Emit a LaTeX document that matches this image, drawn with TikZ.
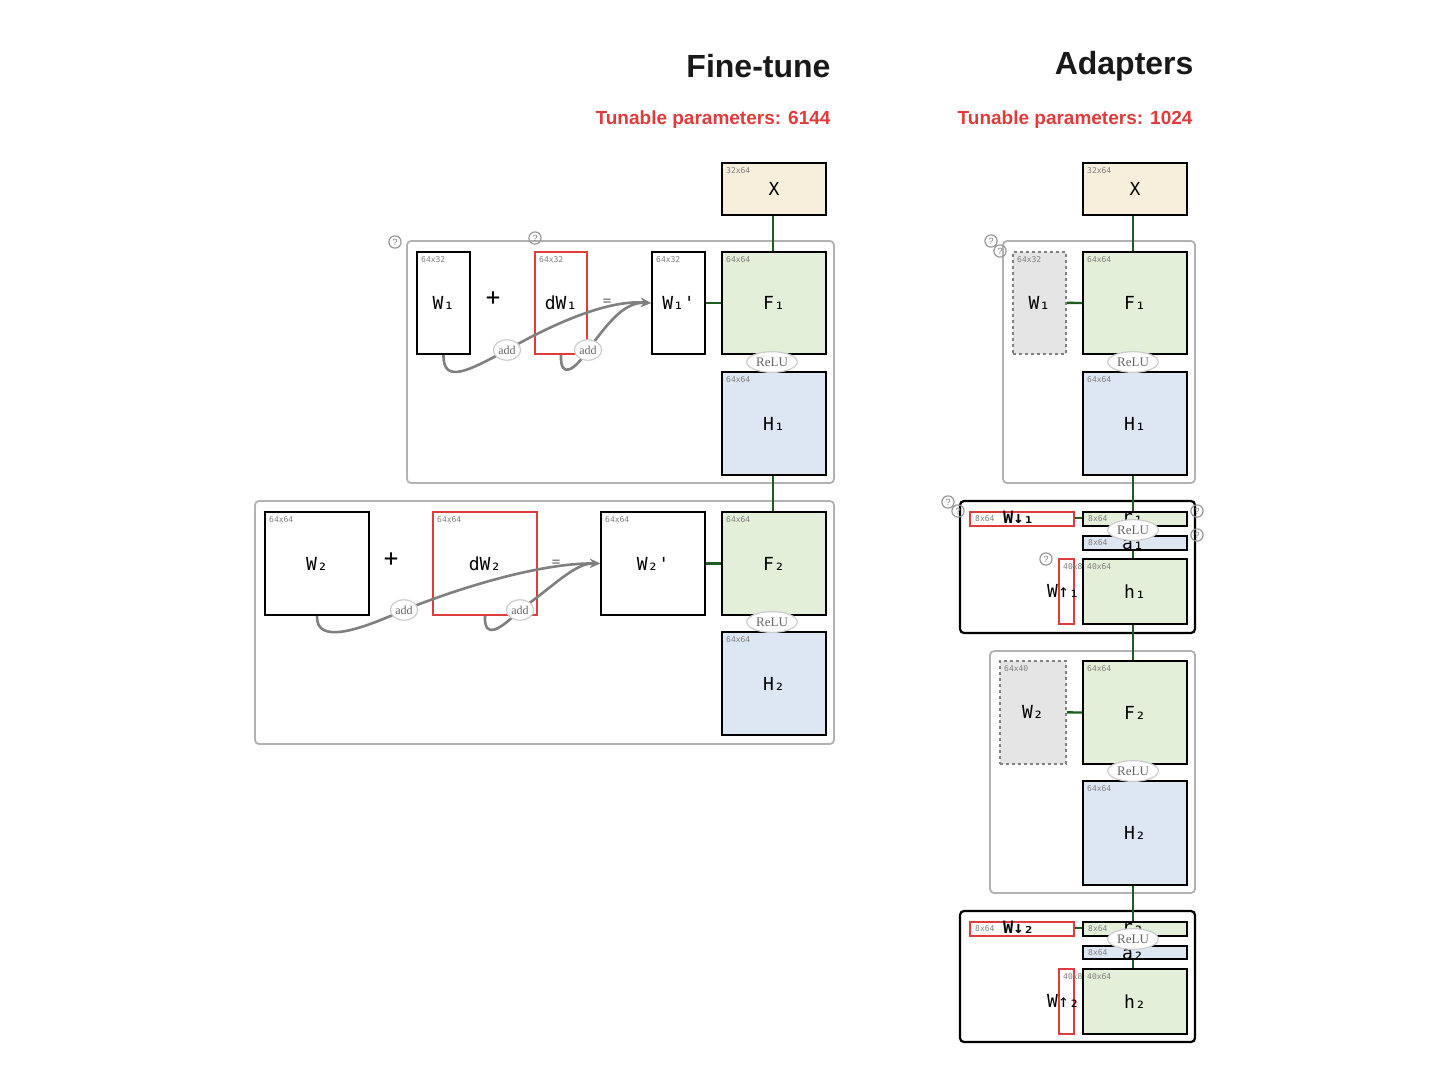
\documentclass[tikz,border=0pt]{standalone}
\usepackage{fontspec}
\setmainfont{Liberation Sans}
\newfontfamily\mono{DejaVu Sans Mono}
\newfontfamily\serifx{Liberation Serif}
\usetikzlibrary{shapes.geometric,arrows.meta}
\definecolor{beige}{HTML}{F7EEDC}
\definecolor{grn}{HTML}{E3EFD9}
\definecolor{blu}{HTML}{DDE7F4}
\definecolor{gry}{HTML}{E5E5E5}
\definecolor{rd}{HTML}{E03C3C}
\definecolor{dg}{HTML}{1E5E1E}
\tikzset{
 mat/.style={draw=black, line width=2pt, inner sep=0pt, font=\mono\fontsize{18}{18}\selectfont},
 redbox/.style={draw=rd, line width=2pt},
 frozen/.style={draw=gray, dashed, fill=gry, line width=1.8pt},
 dim/.style={font=\mono\fontsize{8}{8}\selectfont, text=gray, anchor=north west, inner sep=0pt},
 grp/.style={draw=black!30, line width=1.8pt, rounded corners=4pt},
 ad/.style={draw=black, line width=2.2pt, rounded corners=4pt},
 relu/.style={ellipse, draw=black!20, line width=1.2pt, fill=white, font=\serifx\fontsize{13}{13}\selectfont, text=black!60, inner xsep=2pt, inner ysep=3pt},
 add/.style={ellipse, draw=black!20, line width=1.2pt, fill=white, font=\serifx\fontsize{12}{12}\selectfont, text=black!60, inner xsep=1pt, inner ysep=3pt},
 q/.style={circle, draw=black!40, line width=1.2pt, inner sep=1.5pt, font=\fontsize{9}{9}\selectfont, text=black!50},
 cur/.style={draw=black!50, line width=2.6pt},
 arr/.style={cur, -{Stealth[length=10pt,width=9pt]}},
 lnk/.style={draw=dg, line width=2.4pt},
 ttl/.style={font=\bfseries\fontsize{32}{32}\selectfont, anchor=east, text=black!90},
 tun/.style={font=\bfseries\fontsize{19}{19}\selectfont, anchor=east, text=rd},
}
% name x1 y1 x2 y2 style text dim
\newcommand\bx[8]{\node[mat,#6,anchor=north west,minimum width=#4pt-#2pt,minimum height=#5pt-#3pt] (#1) at (#2,#3) {#7};
 \node[dim] at ([shift={(5pt,-5pt)}]#1.north west) {#8};}
\begin{document}
\begin{tikzpicture}[x=1pt,y=-1pt]
\useasboundingbox[fill=white] (0,0) rectangle (1456,1092);
% titles
\node[ttl] (t1) at (834,66) {Fine-tune};
\node[tun] (p1) at (834,120) {Tunable parameters: 6144};
\node[ttl] (t2) at (1197,66) {Adapters};
\node[tun] (p2) at (1196,120) {Tunable parameters: 1024};

% ===== Fine-tune =====
\draw[grp] (407,241) rectangle (834,483);
\draw[grp] (255,501) rectangle (834,744);
\draw[lnk] (773,214) -- (773,511);
\bx{X}{721}{162}{825}{214}{fill=beige}{X}{32x64}
\bx{Wa}{416}{251}{469}{353}{fill=white}{W₁}{64x32}
\bx{dWa}{534}{251}{586}{353}{redbox}{dW₁}{64x32}
\bx{Wpa}{651}{251}{704}{353}{fill=white}{W₁'}{64x32}
\bx{Fa}{721}{251}{825}{353}{fill=grn}{F₁}{64x64}
\bx{Ha}{721}{371}{825}{474}{fill=blu}{H₁}{64x64}
\bx{Wb}{264}{511}{368}{614}{fill=white}{W₂}{64x64}
\bx{dWb}{432}{511}{536}{614}{redbox}{dW₂}{64x64}
\bx{Wpb}{600}{511}{704}{614}{fill=white}{W₂'}{64x64}
\bx{Fb}{721}{511}{825}{614}{fill=grn}{F₂}{64x64}
\bx{Hb}{721}{631}{825}{734}{fill=blu}{H₂}{64x64}
\node[font=\mono\fontsize{24}{24}\selectfont] (pa) at (493,299) {+};
\node[font=\mono\fontsize{14}{14}\selectfont, text=black!60] (ea) at (607,302) {=};
\node[font=\mono\fontsize{24}{24}\selectfont] (pb) at (391,560) {+};
\node[font=\mono\fontsize{14}{14}\selectfont, text=black!60] (eb) at (556,563) {=};
\draw[lnk] (Wpa.east) -- (Fa.west);
\draw[lnk] (Wpb.east) -- (Fb.west);
\coordinate (c1) at (507,350); \coordinate (c2) at (588,350);
\coordinate (c3) at (404,610); \coordinate (c4) at (520,610);
\draw[arr] (Wa.south) .. controls (443,385) and (470,370) .. (c1) .. controls (560,320) and (610,300) .. (Wpa.west);
\draw[arr] (dWa.south) .. controls (560,380) and (575,370) .. (c2) .. controls (610,320) and (625,302) .. (Wpa.west);
\draw[arr] (Wb.south) .. controls (316,645) and (360,630) .. (c3) .. controls (480,580) and (550,563) .. (Wpb.west);
\draw[arr] (dWb.south) .. controls (484,640) and (500,630) .. (c4) .. controls (555,585) and (575,563) .. (Wpb.west);
\node[add] (a1) at (c1) {add}; \node[add] (a2) at (c2) {add};
\node[add] (a3) at (c3) {add}; \node[add] (a4) at (c4) {add};
\node[relu] (ra) at (772,362) {ReLU};
\node[relu] (rb) at (772,622) {ReLU};
\node[q] (q1) at (395,242) {?};
\node[q] (q2) at (535,238) {?};

% ===== Adapters =====
\draw[grp] (1003,241) rectangle (1195,483);
\draw[ad] (960,501) rectangle (1195,633);
\draw[grp] (990,651) rectangle (1195,893);
\draw[ad] (960,911) rectangle (1195,1042);
\draw[lnk] (1133,214) -- (1133,1033);
\bx{AX}{1082}{162}{1186}{214}{fill=beige}{X}{32x64}
\bx{AWa}{1012}{251}{1065}{353}{frozen}{W₁}{64x32}
\bx{AFa}{1082}{251}{1186}{353}{fill=grn}{F₁}{64x64}
\bx{AHa}{1082}{371}{1186}{474}{fill=blu}{H₁}{64x64}
\draw[lnk] (AWa.east) -- (AFa.west);
\node[relu] (ara) at (1133,362) {ReLU};
\node[q] at (991,241) {?}; \node[q] at (1000,251) {?};
% adapter 1
\draw[lnk] (1073,518) -- (1082,518);
\bx{Da}{969}{511}{1073}{525}{redbox}{}{}
\node[dim, anchor=west] at (975,519) {8x64};
\node[font=\mono\bfseries\fontsize{17}{17}\selectfont, anchor=west, inner sep=0pt] at (1003,517) {W↓₁};
\bx{Ra}{1082}{511}{1186}{525}{fill=grn}{}{}
\node[dim, anchor=west] at (1088,519) {8x64};
\node[font=\mono\fontsize{18}{18}\selectfont] at (1133,518) {r₁};
\bx{Aa}{1082}{535}{1186}{549}{fill=blu}{}{}
\node[dim, anchor=west] at (1088,543) {8x64};
\node[font=\mono\fontsize{18}{18}\selectfont] at (1133,545) {a₁};
\bx{Ua}{1058}{558}{1073}{623}{redbox}{}{}
\bx{ha}{1082}{558}{1186}{623}{fill=grn}{h₁}{40x64}
\node[dim] at (1063,563) {40x8};
\node[font=\mono\fontsize{18}{18}\selectfont, anchor=west, inner sep=0pt] at (1047,591) {W↑₁};
\node[relu] at (1133,530) {ReLU};
\node[q] at (948,502) {?}; \node[q] at (958,511) {?};
\node[q] at (1197,511) {?}; \node[q] at (1197,535) {?};
\node[q] at (1046,559) {?};
% group 2
\bx{AWb}{999}{660}{1065}{763}{frozen}{W₂}{64x40}
\bx{AFb}{1082}{660}{1186}{763}{fill=grn}{F₂}{64x64}
\bx{AHb}{1082}{780}{1186}{884}{fill=blu}{H₂}{64x64}
\draw[lnk] (AWb.east) -- (AFb.west);
\node[relu] at (1133,771) {ReLU};
% adapter 2
\draw[lnk] (1073,928) -- (1082,928);
\bx{Db}{969}{921}{1073}{935}{redbox}{}{}
\node[dim, anchor=west] at (975,929) {8x64};
\node[font=\mono\bfseries\fontsize{17}{17}\selectfont, anchor=west, inner sep=0pt] at (1003,927) {W↓₂};
\bx{Rb}{1082}{921}{1186}{935}{fill=grn}{}{}
\node[dim, anchor=west] at (1088,929) {8x64};
\node[font=\mono\fontsize{18}{18}\selectfont] at (1133,928) {r₂};
\bx{Ab}{1082}{945}{1186}{958}{fill=blu}{}{}
\node[dim, anchor=west] at (1088,953) {8x64};
\node[font=\mono\fontsize{18}{18}\selectfont] at (1133,955) {a₂};
\bx{Ub}{1058}{968}{1073}{1033}{redbox}{}{}
\bx{hb}{1082}{968}{1186}{1033}{fill=grn}{h₂}{40x64}
\node[dim] at (1063,973) {40x8};
\node[font=\mono\fontsize{18}{18}\selectfont, anchor=west, inner sep=0pt] at (1047,1001) {W↑₂};
\node[relu] at (1133,939) {ReLU};
\end{tikzpicture}
\end{document}
